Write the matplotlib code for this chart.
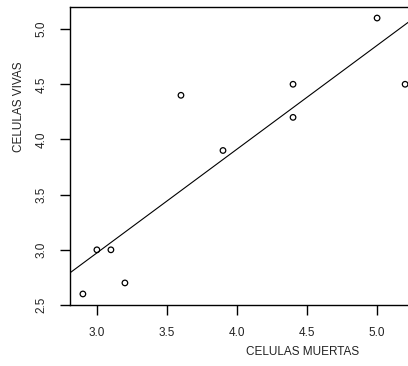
import numpy as np
import matplotlib.pyplot as plt

plt.rcParams['font.family'] = ['Liberation Sans', 'DejaVu Sans']

# dead vs live cell counts
muertas = [2.9, 3.0, 3.1, 3.2, 3.6, 3.9, 4.4, 4.4, 5.0, 5.2]
vivas = [2.6, 3.0, 3.0, 2.7, 4.4, 3.9, 4.5, 4.2, 5.1, 4.5]
xticks = [3.0, 3.5, 4.0, 4.5, 5.0]
yticks = [2.5, 3.0, 3.5, 4.0, 4.5, 5.0]

W, H = 408, 366
fig = plt.figure(figsize=(W / 100, H / 100), dpi=100)
ax = fig.add_axes([70 / W, (H - 305) / H, (418 - 70) / W, (305 - 7) / H])

ax.scatter(muertas, vivas, s=16, facecolors='none', edgecolors='black', linewidths=0.9, zorder=3)

# least squares fit, drawn across the whole plotting region
slope, intercept = np.polyfit(muertas, vivas, 1)
xs = np.array([2.5, 5.6])
ax.plot(xs, intercept + slope * xs, color='black', linewidth=0.8)

ax.set_xlim(2.808, 5.292)
ax.set_ylim(2.5, 5.2)
ax.set_xticks(xticks)
ax.set_yticks(yticks)
ax.set_xticklabels([f'{v:.1f}' for v in xticks])
ax.set_yticklabels([f'{v:.1f}' for v in yticks], rotation=90, va='center')
ax.tick_params(direction='out', length=7, width=1, labelsize=8.5, color='black',
               labelcolor='#222222')
ax.tick_params(axis='x', pad=9)
ax.tick_params(axis='y', pad=9)
for s in ax.spines.values():
    s.set_linewidth(1)
    s.set_color('black')

fig.text(303 / W, 1 - 352 / H, 'CELULAS MUERTAS', ha='center', va='center', fontsize=8.5, color='#222222')
fig.text(19 / W, 1 - 107 / H, 'CELULAS VIVAS', ha='center', va='center', rotation=90, fontsize=8.5, color='#222222')

fig.savefig('out.png', dpi=100)
